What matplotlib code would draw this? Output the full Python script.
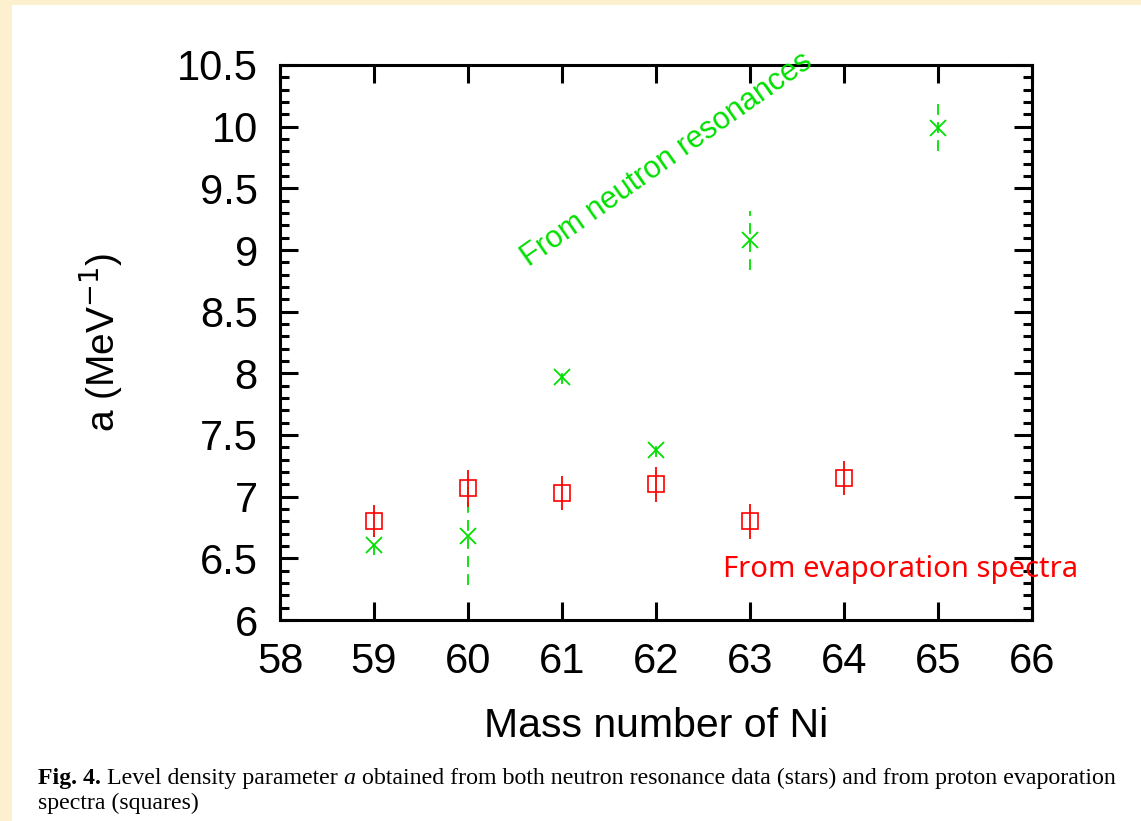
import matplotlib
matplotlib.use("Agg")
import matplotlib.pyplot as plt
from matplotlib.patches import Rectangle

# neutron resonance data (stars)
nr_mass = [59, 60, 61, 62, 63, 65]
nr_a = [6.61, 6.68, 7.97, 7.38, 9.08, 9.99]
nr_err = [0.08, 0.40, 0.06, 0.06, 0.24, 0.19]

# proton evaporation spectra (squares)
ev_mass = [59, 60, 61, 62, 63, 64]
ev_a = [6.80, 7.07, 7.03, 7.10, 6.80, 7.15]
ev_err = [0.13, 0.15, 0.14, 0.14, 0.14, 0.14]

green = "#00e000"
red = "#ff0000"

fig = plt.figure(figsize=(11.41, 8.21), dpi=100)
fig.patch.set_facecolor("#fdf0cf")
fig.patches.append(Rectangle((12 / 1141, 0), 1, 1 - 5 / 821, transform=fig.transFigure,
                             facecolor="white", edgecolor="none", zorder=-5))

ax = fig.add_axes([280 / 1141, (821 - 620) / 821, 752 / 1141, 555 / 821])

eb = ax.errorbar(nr_mass, nr_a, yerr=nr_err, fmt="x", color=green, ms=11.5, mew=1.3,
                 elinewidth=1.3, capsize=0)
eb[2][0].set_linestyle((0, (6, 4)))
ax.errorbar(ev_mass, ev_a, yerr=ev_err, fmt="s", color=red, mfc="none", ms=11.5,
            mew=1.2, elinewidth=1.3, capsize=0)

ax.set_xlim(58, 66)
ax.set_ylim(6, 10.5)
ax.set_xticks(range(58, 67))
ax.set_yticks([6, 6.5, 7, 7.5, 8, 8.5, 9, 9.5, 10, 10.5])
ax.set_yticklabels(["6", "6.5", "7", "7.5", "8", "8.5", "9", "9.5", "10", "10.5"])
ax.set_yticks([6 + 0.1 * i for i in range(46)], minor=True)
ax.tick_params(which="both", direction="in", top=True, right=True, width=2.2,
               labelsize=30, labelfontfamily="Liberation Sans")
ax.tick_params(which="major", length=13, pad=16)
ax.tick_params(which="minor", length=6.5)
for s in ax.spines.values():
    s.set_linewidth(2.2)

ax.set_xlabel("Mass number of Ni", fontsize=29.5, family="Liberation Sans", labelpad=18)
ax.set_ylabel("a (MeV$^{-1}$)", fontsize=28, family="Liberation Sans", labelpad=38)

ax.text(62.12, 9.73, "From neutron resonances", color=green, fontsize=22,
        family="Liberation Sans", rotation=35.3, ha="center", va="center",
        rotation_mode="anchor")
ax.text(64.6, 6.41, "From evaporation spectra", color=red, fontsize=21,
        family="Noto Sans", ha="center", va="center", clip_on=False)

# caption, built from pieces (bold, regular, italic)
pieces = [("Fig. 4.", "bold", "normal"),
          (" Level density parameter ", "normal", "normal"),
          ("a", "normal", "italic"),
          (" obtained from both neutron resonance data (stars) and from proton evaporation",
           "normal", "normal")]
renderer = fig.canvas.get_renderer()
x = 38
for s, w, st in pieces:
    t = fig.text(x / 1141, 1 - 778 / 821, s, fontsize=17.2, family="Liberation Serif",
                 weight=w, style=st, va="center")
    x += t.get_window_extent(renderer).width
fig.text(38 / 1141, 1 - 803 / 821, "spectra (squares)", fontsize=17.2,
         family="Liberation Serif", va="center")

fig.savefig("out.png", dpi=100, facecolor=fig.get_facecolor())
